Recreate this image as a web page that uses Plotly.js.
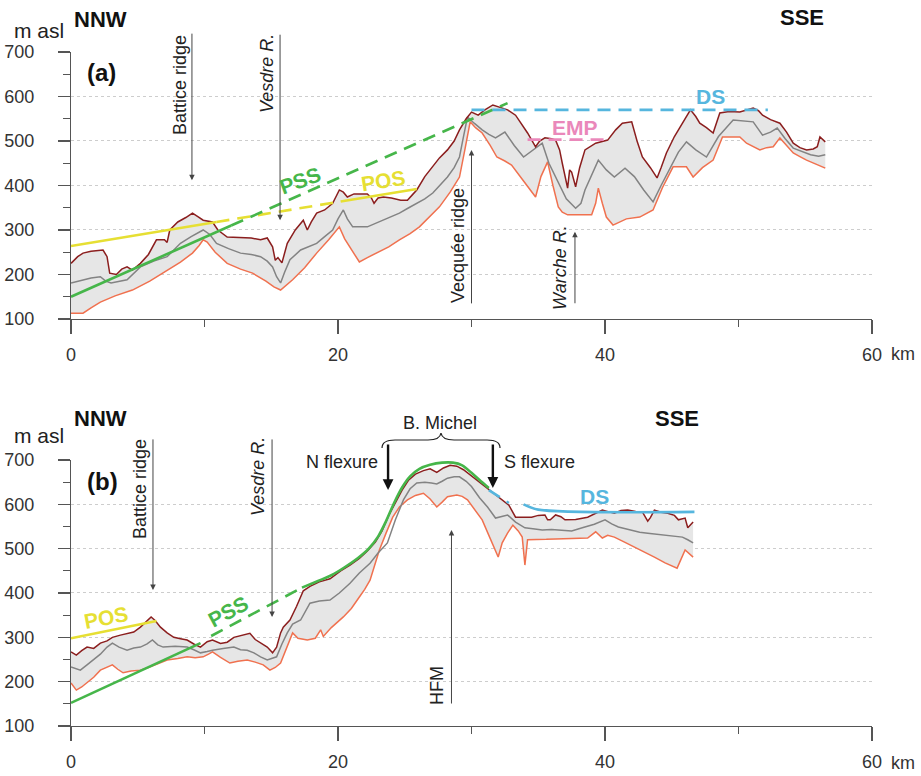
<!DOCTYPE html>
<html><head><meta charset="utf-8">
<script src="https://cdn.plot.ly/plotly-3.0.1.min.js"></script>
<style>html,body{margin:0;padding:0;background:#fff}#chart{width:921px;height:776px}</style>
</head><body><div id="chart"></div>
<script>
// ---------- DATA (km, m asl) ----------
// Panel (a)
const aMax = [[0,225],[0.5,240],[0.9,248],[1.5,252],[2.4,255],[2.7,240],[2.9,203],[3.4,200],[3.8,212],[4.2,217],[4.6,210],[5.2,225],[5.8,245],[6.4,278],[7.0,278],[7.2,272],[7.4,300],[8.0,318],[8.6,328],[9.1,338],[9.5,330],[9.9,322],[10.6,318],[11.0,300],[11.7,284],[12.7,282],[13.5,282],[14.2,278],[14.7,282],[15.1,262],[15.3,232],[15.5,238],[15.8,226],[16.2,270],[16.8,300],[17.4,322],[17.7,300],[18.0,318],[18.4,338],[19.0,345],[19.6,360],[20.1,390],[20.4,385],[20.7,374],[21.2,381],[22.2,381],[22.5,372],[22.7,360],[23.0,372],[23.4,374],[24.0,372],[24.7,367],[25.2,367],[25.6,380],[25.9,390],[26.5,420],[27.1,442],[27.6,462],[28.2,480],[28.7,500],[29.1,525],[29.6,550],[30.0,565],[30.5,558],[31.0,570],[31.6,581],[32.2,575],[32.7,570],[33.3,558],[33.8,535],[34.2,518],[34.8,487],[35.1,500],[35.5,507],[36.0,505],[36.3,502],[36.6,480],[36.8,450],[37.0,420],[37.2,394],[37.35,435],[37.5,430],[37.8,397],[38.1,440],[38.5,480],[39.3,495],[40.2,502],[40.8,525],[41.3,540],[42.0,543],[42.4,500],[42.8,464],[43.4,440],[43.9,417],[44.2,440],[44.6,473],[45.2,510],[45.8,540],[46.4,570],[46.8,555],[47.1,540],[47.6,530],[48.1,518],[48.6,563],[49.3,566],[50.1,565],[50.6,570],[51.1,574],[51.5,568],[51.8,558],[52.4,548],[53.1,540],[53.6,520],[54.1,495],[54.6,485],[55.1,480],[55.6,482],[55.9,487],[56.1,509],[56.5,498]];
const aMean = [[0,181],[0.5,185],[0.9,188],[1.5,192],[2.2,195],[2.6,185],[3.0,181],[3.6,185],[4.2,188],[5.2,217],[6.2,230],[7.2,240],[8.2,270],[9.0,285],[9.9,300],[10.4,290],[10.9,270],[11.8,258],[12.7,248],[13.5,245],[14.2,240],[14.7,230],[15.1,217],[15.4,195],[15.7,181],[16.0,205],[16.4,233],[17.2,255],[17.8,262],[18.4,270],[19.0,285],[19.6,300],[20.0,325],[20.4,345],[20.7,325],[21.1,307],[22.2,307],[22.8,315],[23.4,322],[24.0,330],[24.6,338],[25.3,350],[25.9,360],[26.5,370],[27.1,383],[27.6,400],[28.2,419],[28.7,440],[29.1,464],[29.4,510],[29.7,554],[30.2,540],[30.8,525],[31.3,515],[31.8,507],[32.5,520],[33.2,490],[33.9,464],[34.6,480],[35.3,495],[35.8,450],[36.5,405],[37.1,370],[37.8,349],[38.2,360],[38.5,390],[39.0,425],[39.5,457],[40.1,435],[40.7,419],[41.5,439],[42.2,420],[42.9,390],[43.6,363],[44.2,400],[44.9,442],[45.5,475],[46.1,498],[46.8,480],[47.6,464],[48.5,510],[49.6,547],[50.3,545],[51.1,543],[51.8,513],[52.4,520],[52.9,529],[53.5,505],[54.1,484],[54.8,475],[55.4,469],[56.0,466],[56.5,469]];
const aMin = [[0,113],[0.9,113],[1.5,125],[2.2,138],[3.3,152],[4.6,165],[5.9,185],[7.2,210],[8.2,228],[9.1,248],[9.6,265],[9.9,278],[10.2,273],[10.8,250],[11.7,225],[12.7,212],[13.6,203],[14.6,185],[15.2,172],[15.7,165],[16.1,175],[16.6,188],[17.5,215],[18.4,248],[19.3,278],[20.1,307],[20.5,280],[20.9,262],[21.6,228],[22.2,238],[22.9,248],[23.8,262],[24.6,278],[25.4,292],[26.1,307],[26.9,330],[27.6,352],[28.4,385],[29.1,419],[29.5,480],[29.9,543],[30.3,530],[30.8,518],[31.4,490],[31.9,464],[32.5,455],[33.0,446],[33.9,410],[34.8,374],[35.2,420],[35.7,453],[36.1,400],[36.5,352],[36.8,340],[37.2,334],[38.0,334],[39.0,334],[39.3,360],[39.5,394],[39.8,360],[40.1,329],[40.6,311],[41.6,325],[42.6,329],[43.6,345],[44.3,395],[45.1,442],[45.6,442],[46.1,442],[46.6,419],[47.3,440],[48.1,457],[48.8,509],[49.5,509],[50.1,509],[50.6,495],[51.1,488],[51.6,480],[52.1,485],[52.6,487],[53.1,507],[53.6,490],[54.1,473],[54.6,465],[55.1,457],[55.8,448],[56.5,439]];
const aPOS1 = [[0,264],[10.9,318]];
const aPOSdash = [[10.9,318],[20.2,364]];
const aPOS2 = [[20.2,364],[25.9,392]];
const aPSS = [[0,150],[12,310]];
const aPSSdash = [[12,310],[32.7,585]];
const aDS = [[30,570],[52.2,570]];
const aEMP = [[34.2,503],[40.2,503]];

// Panel (b)
const bMax = [[0,267],[0.4,260],[0.8,270],[1.2,278],[1.7,275],[2.2,287],[2.7,292],[3.1,300],[3.7,305],[4.2,309],[4.7,312],[5.2,323],[5.6,335],[6.0,346],[6.3,338],[6.7,323],[7.2,310],[7.7,300],[8.2,297],[8.7,294],[9.2,285],[9.7,278],[10.2,290],[10.6,294],[11.2,286],[11.7,289],[12.2,300],[12.8,305],[13.4,309],[13.8,295],[14.2,287],[14.7,278],[15.1,265],[15.4,278],[15.7,310],[15.9,323],[16.4,339],[16.9,370],[17.4,405],[17.9,415],[18.6,425],[19.4,432],[20.2,450],[20.9,463],[21.6,478],[22.2,495],[22.8,515],[23.3,540],[23.8,575],[24.3,605],[24.8,632],[25.3,655],[25.8,668],[26.4,676],[26.9,680],[27.4,672],[27.9,682],[28.4,688],[28.9,686],[29.4,678],[30.0,664],[30.6,650],[31.2,634],[31.8,620],[32.4,608],[32.8,598],[33.3,571],[34.0,571],[34.5,571],[35.0,575],[35.5,576],[35.7,565],[35.9,565],[36.3,576],[36.7,572],[37.0,565],[37.8,566],[38.7,571],[39.3,580],[39.8,587],[40.3,583],[40.7,580],[41.2,586],[41.7,587],[42.3,584],[42.8,583],[43.2,562],[43.4,570],[43.7,587],[44.2,582],[44.7,580],[45.2,575],[45.5,565],[46.0,569],[46.2,547],[46.6,560]];
const bMean = [[0,233],[0.4,228],[0.7,226],[1.2,238],[1.7,249],[2.2,262],[2.7,278],[3.1,287],[3.6,278],[4.2,271],[4.7,276],[5.2,278],[5.7,285],[6.1,294],[6.5,283],[6.9,278],[7.8,280],[8.7,278],[9.2,272],[9.7,265],[10.2,268],[10.6,271],[11.4,275],[12.2,278],[12.7,272],[13.2,271],[13.7,265],[14.2,256],[14.7,249],[15.1,252],[15.4,256],[15.8,285],[16.2,310],[16.6,330],[17.2,339],[17.9,377],[18.6,382],[19.4,384],[20.1,400],[20.9,422],[21.6,445],[22.4,467],[23.0,490],[23.7,513],[24.3,565],[24.9,610],[25.4,635],[25.9,648],[26.5,650],[27.0,648],[27.4,646],[27.8,652],[28.2,659],[28.7,662],[29.1,662],[29.6,652],[30.0,640],[30.6,615],[31.2,594],[31.8,569],[32.2,572],[32.7,576],[33.3,560],[34.0,547],[34.6,545],[35.3,542],[36.0,543],[36.8,542],[37.5,540],[38.3,547],[39.2,555],[40.0,565],[40.5,556],[41.0,549],[41.5,545],[42.0,542],[42.6,537],[43.2,535],[43.8,533],[44.5,531],[45.1,528],[45.8,526],[46.2,520],[46.6,513]];
const bMin = [[0,197],[0.4,181],[0.8,188],[1.2,197],[1.7,210],[2.2,226],[2.7,232],[3.1,238],[3.5,228],[3.9,220],[4.5,224],[5.2,226],[5.8,232],[6.4,240],[7.2,249],[8.0,252],[8.7,256],[9.3,254],[9.9,256],[10.3,262],[10.6,267],[11.2,255],[11.9,242],[12.5,246],[13.2,249],[13.8,244],[14.4,238],[14.9,226],[15.3,232],[15.7,242],[16.2,280],[16.6,310],[17.0,298],[17.7,294],[18.3,298],[18.7,317],[18.9,302],[19.5,322],[20.4,346],[21.0,365],[21.6,391],[22.0,408],[22.4,429],[22.8,465],[23.1,497],[23.6,535],[24.1,571],[24.6,594],[25.2,610],[25.8,620],[26.4,625],[26.9,612],[27.4,594],[27.8,605],[28.2,617],[28.9,621],[29.3,618],[29.7,610],[30.2,590],[30.8,565],[31.3,530],[31.8,497],[32.0,481],[32.3,513],[32.7,535],[33.1,553],[33.5,540],[33.8,526],[34.0,463],[34.2,520],[34.9,520],[35.6,521],[36.3,522],[37.0,523],[37.8,523],[38.7,524],[39.3,538],[39.8,524],[40.2,530],[40.7,526],[41.5,514],[42.2,504],[42.9,493],[43.7,481],[44.5,468],[45.4,456],[46.0,497],[46.6,481]];
const bPOS = [[0,298],[6.4,337]];
const bPSS = [[0,152],[9.7,287]];
const bPSSdash = [[10.5,303],[17.3,412]];
const bFlexure = [[17.3,412],[18.5,427],[19.5,440],[20.5,458],[21.5,479],[22.3,500],[23.0,527],[23.6,562],[24.2,603],[24.8,638],[25.4,663],[26.1,680],[26.9,689],[27.8,694],[28.6,694],[29.3,688],[30.0,671],[30.7,652],[31.3,637]];
const bDSdash = [[31.3,632],[32.8,603]];
const bDS = [[33.9,600],[35.0,588],[46.7,583]];

const xTicks = [0,20,40,60];
const yTicks = [100,200,300,400,500,600,700];

// ---------- STYLE ----------
const C = {max:'#8b1e1e', mean:'#838383', min:'#f0714f', fill:'#e6e6e6',
  yellow:'#e6df33', green:'#46b64a', blue:'#56b6de', pink:'#ea88ba', txt:'#222'};
const FONT = 'Liberation Sans, Arial, Helvetica, sans-serif';
const X = p => p.map(d => d[0]);
const Y = p => p.map(d => d[1]);

function profile(maxP, meanP, minP, xa, ya) {
  const poly = maxP.concat(minP.slice().reverse());
  return [
    {x:X(poly), y:Y(poly), xaxis:xa, yaxis:ya, mode:'lines', fill:'toself', fillcolor:C.fill, line:{width:0}, hoverinfo:'skip'},
    {x:X(minP), y:Y(minP), xaxis:xa, yaxis:ya, mode:'lines', line:{color:C.min, width:1.5}},
    {x:X(meanP), y:Y(meanP), xaxis:xa, yaxis:ya, mode:'lines', line:{color:C.mean, width:1.5}},
    {x:X(maxP), y:Y(maxP), xaxis:xa, yaxis:ya, mode:'lines', line:{color:C.max, width:1.5}}
  ];
}
function seg(p, color, dash, xa, ya, shape) {
  return {x:X(p), y:Y(p), xaxis:xa, yaxis:ya, mode:'lines',
    line:{color:color, width:2.6, dash:dash || 'solid', shape:shape || 'linear', smoothing:0.8}};
}
const DASH = '13px,8px';

const data = [].concat(
  profile(aMax, aMean, aMin, 'x', 'y'),
  [seg(aPOS1, C.yellow, null, 'x', 'y'), seg(aPOSdash, C.yellow, DASH, 'x', 'y'), seg(aPOS2, C.yellow, null, 'x', 'y'),
   seg(aPSS, C.green, null, 'x', 'y'), seg(aPSSdash, C.green, DASH, 'x', 'y'),
   seg(aDS, C.blue, DASH, 'x', 'y'), seg(aEMP, C.pink, DASH, 'x', 'y')],
  profile(bMax, bMean, bMin, 'x2', 'y2'),
  [seg(bPOS, C.yellow, null, 'x2', 'y2'), seg(bPSS, C.green, null, 'x2', 'y2'), seg(bPSSdash, C.green, DASH, 'x2', 'y2'),
   seg(bFlexure, C.green, null, 'x2', 'y2', 'spline'),
   seg(bDSdash, C.blue, DASH, 'x2', 'y2'), seg(bDS, C.blue, null, 'x2', 'y2', 'spline')]
);

const axCol = '#555';
function xAxis(anchor) {
  return {anchor:anchor, domain:[0,1], range:[0,60], tickmode:'array', tickvals:xTicks, ticktext:xTicks.map(String),
    ticks:'outside', ticklen:14, tickwidth:1.2, tickcolor:axCol, showline:true, linecolor:axCol, linewidth:1.2,
    showgrid:false, zeroline:false, tickfont:{family:FONT, size:18, color:'#333'}, ticklabelstandoff:5,
    minor:{tickmode:'array', tickvals:[10,30,50], ticks:'outside', ticklen:7, tickwidth:1.2, tickcolor:axCol, showgrid:false},
    fixedrange:true};
}
function yAxis(anchor, domain) {
  return {anchor:anchor, domain:domain, range:[100,700], tickmode:'array', tickvals:yTicks,
    ticks:'outside', ticklen:12, tickwidth:1.2, tickcolor:axCol, showline:true, linecolor:axCol, linewidth:1.2,
    showgrid:true, gridcolor:'#cdcdcd', griddash:'dot', gridwidth:1, zeroline:false,
    tickfont:{family:FONT, size:18, color:'#333'}, ticklabelstandoff:20,
    minor:{tickmode:'array', tickvals:[150,250,350,450,550,650], ticks:'outside', ticklen:7, tickwidth:1.2, tickcolor:axCol, showgrid:false},
    fixedrange:true};
}

// pixel -> paper helper for free-standing labels
const L = 71, R = 872, T = 52, B = 726;
const px = v => (v - L) / (R - L);
const py = v => (B - v) / (B - T);

function txt(x, y, text, o) {
  return Object.assign({xref:'paper', yref:'paper', x:px(x), y:py(y), text:text, showarrow:false,
    font:{family:FONT, size:18, color:C.txt}, xanchor:'center', yanchor:'middle'}, o || {});
}
function arrow(xref, yref, x, y, ay, o) {
  return Object.assign({xref:xref, yref:yref, x:x, y:y, ax:0, ay:ay, text:'', showarrow:true,
    arrowhead:2, arrowsize:1.1, arrowwidth:1, arrowcolor:'#444'}, o || {});
}
function lab(xref, yref, x, y, text, color, angle) {
  return {xref:xref, yref:yref, x:x, y:y, text:'<b>' + text + '</b>', showarrow:false, textangle:angle || 0,
    font:{family:FONT, size:21, color:color}, xanchor:'center', yanchor:'middle'};
}
const big = (s, c) => ({font:{family:FONT, size:s, color:c || '#111'}});

const annotations = [
  // panel (a)
  txt(39, 31, 'm asl', big(21, C.txt)),
  txt(72, 20, '<b>NNW</b>', Object.assign({xanchor:'left'}, big(22))),
  txt(802, 18, '<b>SSE</b>', big(22)),
  txt(101, 72, '<b>(a)</b>', big(24)),
  txt(903, 354, 'km', big(18, '#333')),
  txt(180, 85, 'Battice ridge', {textangle:-90}),
  txt(267, 74, '<i>Vesdre R.</i>', {textangle:-90}),
  txt(458, 246, 'Vecquée ridge', {textangle:-90}),
  txt(560, 268, '<i>Warche R.</i>', {textangle:-90}),
  arrow('x', 'y', 9.06, 412, -148),
  arrow('x', 'y', 15.66, 322, -187),
  arrow('x', 'y', 30.0, 480, 155),
  arrow('x', 'y', 37.75, 296, 73),
  lab('x', 'y', 17.15, 412, 'PSS', C.green, -20),
  lab('x', 'y', 23.4, 412, 'POS', C.yellow, -9),
  lab('x', 'y', 47.9, 599, 'DS', C.blue, 0),
  lab('x', 'y', 37.75, 531, 'EMP', C.pink, 0),
  // panel (b)
  txt(39, 435, 'm asl', big(21, C.txt)),
  txt(72, 418, '<b>NNW</b>', Object.assign({xanchor:'left'}, big(22))),
  txt(677, 418, '<b>SSE</b>', big(22)),
  txt(102, 482, '<b>(b)</b>', big(24)),
  txt(903, 763, 'km', big(18, '#333')),
  txt(140, 489, 'Battice ridge', {textangle:-90}),
  txt(258, 477, '<i>Vesdre R.</i>', {textangle:-90}),
  txt(437, 686, 'HFM', {textangle:-90}),
  txt(380, 462, 'N flexure', {xanchor:'right'}),
  txt(502, 462, 'S flexure', {xanchor:'left'}),
  txt(440, 423, 'B. Michel'),
  arrow('x2', 'y2', 6.14, 407, -152),
  arrow('x2', 'y2', 15.06, 346, -179),
  arrow('x2', 'y2', 28.5, 542, 175),
  arrow('x2', 'y2', 23.75, 632, -47, {arrowwidth:2.4, arrowcolor:'#111', arrowsize:0.9}),
  arrow('x2', 'y2', 31.6, 637, -45, {arrowwidth:2.4, arrowcolor:'#111', arrowsize:0.9}),
  lab('x2', 'y2', 2.62, 344, 'POS', C.yellow, -11),
  lab('x2', 'y2', 11.76, 359, 'PSS', C.green, -28),
  lab('x2', 'y2', 39.25, 617, 'DS', C.blue, 0)
];

// curly brace over "B. Michel"
function P(x, y) { return px(x).toFixed(4) + ',' + py(y).toFixed(4); }
const bracePath = 'M' + P(382, 448) + ' Q' + P(382, 440) + ' ' + P(395, 440) + ' L' + P(428, 440) +
  ' Q' + P(440, 440) + ' ' + P(441, 433) + ' Q' + P(442, 440) + ' ' + P(454, 440) + ' L' + P(487, 440) +
  ' Q' + P(500, 440) + ' ' + P(500, 448);

const layout = {
  width:921, height:776, margin:{l:L, r:921 - R, t:T, b:776 - B},
  paper_bgcolor:'#fff', plot_bgcolor:'#fff', showlegend:false, hovermode:false,
  font:{family:FONT, color:'#333'},
  xaxis:xAxis('y'), yaxis:yAxis('x', [0.6039, 1]),
  xaxis2:xAxis('y2'), yaxis2:yAxis('x2', [0, 0.3947]),
  annotations:annotations,
  shapes:[{type:'path', xref:'paper', yref:'paper', path:bracePath, line:{color:'#222', width:1.2}}]
};

Plotly.newPlot('chart', data, layout, {displayModeBar:false, staticPlot:true});
</script>
</body></html>
